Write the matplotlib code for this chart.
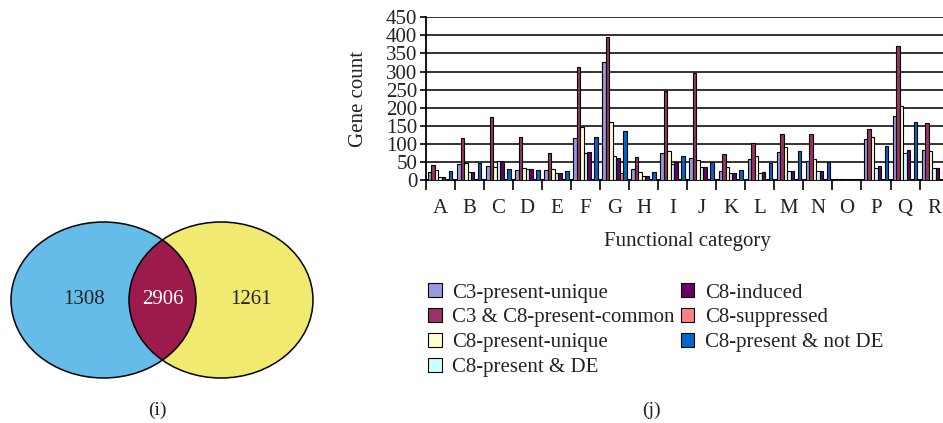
import numpy as np
import matplotlib
matplotlib.use("Agg")
import matplotlib.pyplot as plt
from matplotlib.patches import Ellipse

plt.rcParams['font.family'] = ['Liberation Serif', 'DejaVu Serif']

# Venn counts: C3 only, common, C8 only
venn_counts = [1308, 2906, 1261]

categories = list("ABCDEFGHIJKLMNOPQR")
series_names = ["C3-present-unique", "C3 & C8-present-common", "C8-present-unique",
                "C8-present & DE", "C8-induced", "C8-suppressed", "C8-present & not DE"]
c3_unique = [21, 44, 39, 28, 28, 117, 327, 30, 74, 60, 25, 58, 77, 53, 3, 113, 177, 83]
common = [41, 117, 175, 120, 76, 313, 396, 63, 247, 295, 71, 101, 127, 127, 3, 140, 371, 157]
c8_unique = [28, 47, 36, 32, 31, 146, 161, 23, 80, 55, 36, 67, 92, 58, 3, 120, 206, 80]
c8_de = [8, 21, 53, 30, 20, 76, 66, 10, 44, 37, 18, 18, 25, 25, 0, 34, 74, 32]
c8_induced = [8, 21, 53, 30, 20, 78, 62, 10, 50, 36, 18, 23, 25, 26, 0, 40, 83, 32]
c8_suppressed = [0, 0, 0, 0, 0, 0, 18, 0, 0, 0, 0, 0, 0, 0, 0, 0, 0, 0]
c8_not_de = [24, 46, 30, 28, 24, 120, 135, 23, 67, 49, 28, 46, 80, 50, 4, 95, 160, 69]
series = [c3_unique, common, c8_unique, c8_de, c8_induced, c8_suppressed, c8_not_de]
colors = ["#9999dd", "#993366", "#ffffcc", "#ccffff", "#660066", "#ff8080", "#0066cc"]

fig = plt.figure(figsize=(9.43, 4.23), dpi=100)

# background axes in pixel coordinates for the Venn diagram and panel labels
bg = fig.add_axes([0, 0, 1, 1])
bg.set_xlim(0, 943)
bg.set_ylim(423, 0)
bg.axis("off")

left = Ellipse((103.5, 300), 185, 156, facecolor="#66bce8", edgecolor="none")
right = Ellipse((221, 300), 184, 156, facecolor="#f0ea70", edgecolor="none")
bg.add_patch(left)
bg.add_patch(right)
lens = Ellipse((103.5, 300), 185, 156, facecolor="#9c1b4c", edgecolor="none")
bg.add_patch(lens)
lens.set_clip_path(right)
for cx, w in [(103.5, 185), (221, 184)]:
    bg.add_patch(Ellipse((cx, 300), w, 156, facecolor="none", edgecolor="black", lw=1.1))

bg.text(84, 300, str(venn_counts[0]), ha="center", va="center", fontsize=15, color="#222222")
bg.text(163, 300, str(venn_counts[1]), ha="center", va="center", fontsize=15, color="white")
bg.text(251, 300, str(venn_counts[2]), ha="center", va="center", fontsize=15, color="#222222")
bg.text(157, 410, "(i)", ha="center", va="center", fontsize=14, color="#222222")
bg.text(651, 410, "(j)", ha="center", va="center", fontsize=14, color="#222222")

# bar chart
ax = fig.add_axes([0.4514, 0.5745, 0.5546, 0.3845])
x = np.arange(len(categories))
bw = 0.12
bars = []
for i, (vals, col, name) in enumerate(zip(series, colors, series_names)):
    b = ax.bar(x + (i - 3) * bw, vals, bw, color=col, edgecolor="black", linewidth=0.8,
               label=name, zorder=3)
    bars.append(b)

ax.set_xlim(-0.5, len(categories) - 0.5)
ax.set_ylim(0, 450)
ax.set_yticks(range(0, 451, 50))
ax.yaxis.grid(True, color="#333333", linewidth=1.4, zorder=0)
ax.set_xticks(x)
ax.set_xticklabels(categories)
ax.set_xticks(np.arange(-0.5, len(categories), 1), minor=True)
ax.tick_params(axis="x", which="major", length=0, pad=14, labelsize=15, labelcolor="#222222")
ax.tick_params(axis="x", which="minor", length=7, width=1.2, direction="out")
ax.tick_params(axis="y", length=4, width=1.2, labelsize=15, pad=2, labelcolor="#222222")
for s in ["top", "right"]:
    ax.spines[s].set_visible(False)
for s in ["left", "bottom"]:
    ax.spines[s].set_linewidth(1.3)
ax.set_ylabel("Gene count", fontsize=15, labelpad=13, color="#222222")
ax.set_xlabel("Functional category", fontsize=15, labelpad=10, color="#222222")

fig.legend(handles=bars, labels=series_names, ncol=2, loc="upper left",
           bbox_to_anchor=(0.445, 0.35), frameon=False, fontsize=15,
           handlelength=0.65, handleheight=0.65, handletextpad=0.5,
           columnspacing=0.3, labelspacing=0.27, borderaxespad=0,
           labelcolor="#222222")

fig.savefig("out.png", dpi=100)
